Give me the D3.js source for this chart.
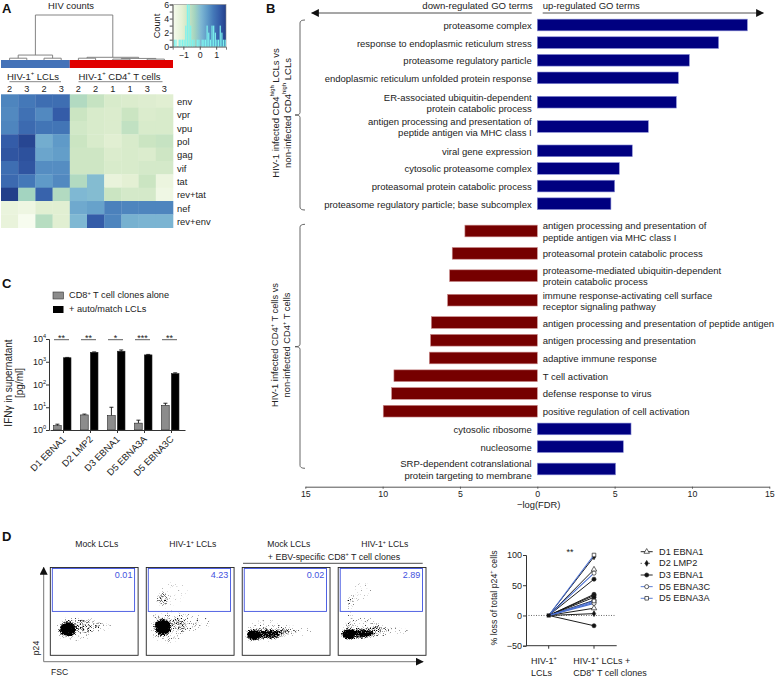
<!DOCTYPE html>
<html>
<head>
<meta charset="utf-8">
<script src="https://cdn.jsdelivr.net/npm/d3@7"></script>
<style>
  html, body { margin: 0; padding: 0; background: #fff; }
  svg { display: block; }
  text { font-family: "Liberation Sans", Arial, sans-serif; fill: #222; }
</style>
</head>
<body>
<div id="container"></div>
<script>
//DATA - panel A
const heatRows = ["env", "vpr", "vpu", "pol", "gag", "vif", "tat", "rev+tat", "nef", "rev+env"];
const heatCols = ["2", "3", "2", "3", "2", "2", "1", "1", "3", "3"];
const heatValues = [
  [0.85, 1.0, 1.15, 1.15, -0.35, -0.55, -0.8, -0.85, -0.9, -0.95],
  [0.8, 1.1, 0.8, 1.4, -0.6, -0.8, -0.85, -0.6, -0.85, -0.8],
  [0.85, 1.2, 1.05, 1.05, -0.7, -0.8, -0.85, -0.5, -0.8, -0.8],
  [1.4, 1.7, 0.35, 0.6, -0.6, -0.8, -0.95, -0.8, -0.6, -0.55],
  [1.5, 1.55, 0.45, 0.55, -0.65, -0.65, -0.85, -0.8, -0.85, -0.65],
  [1.15, 1.5, 0.75, 0.75, -0.65, -0.65, -0.8, -0.8, -0.75, -0.75],
  [1.2, 1.0, 0.6, 0.8, -0.35, 0.15, -1.15, -1.0, -0.6, -1.25],
  [1.8, -0.2, 1.3, -0.35, 0.2, 0.15, -0.6, -0.75, -0.75, -1.35],
  [-1.2, -1.3, -0.95, -0.95, 0.4, 0.5, 0.9, 0.85, 0.85, 0.85],
  [-1.15, -1.6, -0.4, -0.95, 0.2, 1.4, 0.85, 0.3, 0.25, 0.25]
];
const heatStops = [-1.6, -1.0, -0.6, -0.2, 0.2, 0.6, 1.0, 1.4, 1.8];
const heatColors = ["#f7fcef", "#e4f0d4", "#cbe5c2", "#a3d4c0", "#7fb8d3", "#5f9ac8", "#4478b8", "#345ca8", "#223f8a"];
// dendrogram, leaves are column indexes, h is the merge height
const dendro = { h: 1, children: [
  { h: 0.11, children: [
    { h: 0.04, children: [{ leaf: 0 }, { leaf: 1 }] },
    { h: 0.04, children: [{ leaf: 2 }, { leaf: 3 }] } ] },
  { h: 0.06, children: [
    { h: 0.04, children: [{ leaf: 4 }, { leaf: 5 }] },
    { h: 0.035, children: [
      { h: 0.02, children: [{ leaf: 6 }, { leaf: 7 }] },
      { h: 0.02, children: [{ leaf: 8 }, { leaf: 9 }] } ] } ] }
] };
const histStarts = [-1.6, -1.5, -1.3, -1.2, -1.1, -1.0, -0.9, -0.8, -0.7, -0.6, -0.5, -0.4, -0.2, -0.1, 0.1, 0.2, 0.3, 0.4, 0.5, 0.6, 0.7, 0.8, 0.9, 1.0, 1.1, 1.2, 1.3, 1.4, 1.5];
const histCounts = [1, 1, 1, 1, 1, 1, 3, 6, 6, 3, 1, 1, 1, 1, 1, 1, 1, 3, 2, 1, 3, 3, 2, 1, 1, 3, 2, 1, 1];

//DATA - panel B
const termsLcl = ["proteasome complex", "response to endoplasmic reticulum stress", "proteasome regulatory particle",
  "endoplasmic reticulum unfolded protein response", "ER-associated ubiquitin-dependent|protein catabolic process",
  "antigen processing and presentation of|peptide antigen via MHC class I", "viral gene expression",
  "cytosolic proteasome complex", "proteasomal protein catabolic process", "proteasome regulatory particle; base subcomplex"];
const fdrLcl = [13.58, 11.72, 9.83, 9.12, 8.99, 7.18, 6.14, 5.3, 5.0, 4.76];
const termsT = ["antigen processing and presentation of|peptide antigen via MHC class I", "proteasomal protein catabolic process",
  "proteasome-mediated ubiquitin-dependent|protein catabolic process", "immune response-activating cell surface|receptor signaling pathway",
  "antigen processing and presentation of peptide antigen", "antigen processing and presentation", "adaptive immune response",
  "T cell activation", "defense response to virus", "positive regulation of cell activation",
  "cytosolic ribosome", "nucleosome", "SRP-dependent cotranslational|protein targeting to membrane"];
const fdrT = [-4.68, -5.5, -5.67, -5.8, -6.85, -6.9, -6.98, -9.27, -9.42, -9.96, 6.06, 5.56, 5.06];
const fdrTicks = [-15, -10, -5, 0, 5, 10, 15];

//DATA - panel C
const clones = ["D1 EBNA1", "D2 LMP2", "D3 EBNA1", "D5 EBNA3A", "D5 EBNA3C"];
const alone = [1.55, 4.6, 4.3, 2.0, 12];
const aloneErr = [1.8, 5, 10, 2.7, 15];
const auto = [1500, 2600, 2900, 2000, 300];
const autoErr = [1550, 2700, 3300, 2100, 325];
const sig = ["**", "**", "*", "***", "**"];
const ifnTicks = [1, 10, 100, 1000, 10000];

//DATA - panel D flow plots, clouds are fsc, p24, radius fsc, radius p24, density
const flowTitles = ["Mock LCLs", "HIV-1{+} LCLs", "Mock LCLs", "HIV-1{+} LCLs"];
const flowGates = ["0.01", "4.23", "0.02", "2.89"];
const flowClouds = [
  [[20, 30, 9, 8, 1], [27, 30, 20, 14, 0.22], [44, 33, 15, 8, 0.24], [60, 33, 10, 6, 0.16]],
  [[19, 32, 9, 9, 1], [24, 33, 21, 18, 0.24], [46, 37, 17, 11, 0.24], [66, 37, 9, 6, 0.15], [18, 63, 7, 8, 0.28], [30, 70, 16, 13, 0.14]],
  [[13, 23, 8, 6, 1], [28, 24, 15, 5, 0.75], [28, 28, 24, 12, 0.2], [50, 27, 12, 6, 0.3], [70, 27, 10, 5, 0.17]],
  [[12, 24, 8, 6, 1], [26, 25, 14, 5, 0.75], [26, 31, 22, 13, 0.2], [48, 28, 13, 7, 0.3], [70, 29, 11, 5, 0.18], [14, 61, 5, 8, 0.3], [26, 72, 11, 12, 0.14], [12, 42, 3, 11, 0.25]]
];

//DATA - panel D line plot
const lossDonors = ["D1 EBNA1", "D2 LMP2", "D3 EBNA1", "D5 EBNA3C", "D5 EBNA3A"];
const lossValues = [[76, 12], [97, 3], [60, 35, 33, 30, 25, -17], [70, 22, 20], [100, 24]];
const lossShapes = [d3.symbolTriangle, d3.symbolDiamond, d3.symbolCircle, d3.symbolCircle, d3.symbolSquare];
const lossFilled = [false, true, true, false, false];
const lossColors = ["#111", "#111", "#111", "#4a6fd0", "#4a6fd0"];
const lossTicks = [-50, 0, 50, 100];

//SETUP
const width = 775, height = 677;
const svg = d3.select("#container").append("svg").attr("width", width).attr("height", height);
const axisGray = "#555";
const labelSize = 9.5;

// text with {..} parts set as superscript
function rich(sel, str) {
  str.split(/(\{[^}]*\})/).filter(s => s.length).forEach((part, i, all) => {
    const up = part[0] === "{";
    const prevUp = i > 0 && all[i - 1][0] === "{";
    sel.append("tspan")
      .attr("dy", up ? -2.8 : (prevUp ? 2.8 : null))
      .style("font-size", up ? "0.62em" : null)
      .text(up ? part.slice(1, -1) : part);
  });
  return sel;
}
function label(x, y, str, size, anchor, rotate) {
  const t = svg.append("text")
    .attr("transform", `translate(${x},${y})` + (rotate ? ` rotate(${rotate})` : ""))
    .attr("text-anchor", anchor || "start")
    .attr("dominant-baseline", "central")
    .style("font-size", size + "px");
  return rich(t, str);
}
function panelLetter(x, y, s) {
  svg.append("text").attr("x", x).attr("y", y)
    .style("font-size", "13px").style("font-weight", "bold").style("fill", "#111").text(s);
}
panelLetter(2, 13, "A");
panelLetter(266, 13, "B");
panelLetter(2, 288, "C");
panelLetter(2, 541, "D");

const defs = svg.append("defs");
defs.append("marker").attr("id", "arrow").attr("viewBox", "0 0 10 10").attr("refX", 9).attr("refY", 5)
  .attr("markerWidth", 8).attr("markerHeight", 8).attr("markerUnits", "userSpaceOnUse").attr("orient", "auto-start-reverse")
  .append("path").attr("d", "M0,0L10,5L0,10Z").attr("fill", "#111");

//PANEL A
const heatX = d3.scaleBand().domain(d3.range(heatCols.length)).range([1, 173]);
const heatY = d3.scaleBand().domain(heatRows).range([94.3, 227.7]);
const heatColor = d3.scaleLinear().domain(heatStops).range(heatColors).clamp(true);

heatRows.forEach((row, r) => {
  svg.append("g").selectAll("rect").data(heatValues[r]).join("rect")
    .attr("x", (d, c) => heatX(c))
    .attr("y", heatY(row))
    .attr("width", heatX.bandwidth() + 0.3)
    .attr("height", heatY.bandwidth() + 0.3)
    .attr("fill", d => heatColor(d));
});
heatRows.forEach(row => label(177, heatY(row) + heatY.bandwidth() / 2, row, 9.4));
heatCols.forEach((c, i) => label(heatX(i) + heatX.bandwidth() / 2, 89.3, c, 9.2, "middle"));

// group colour bar, brackets and names
svg.append("rect").attr("x", heatX(0)).attr("y", 60).attr("width", heatX(4) - heatX(0)).attr("height", 8).attr("fill", "#4472b8");
svg.append("rect").attr("x", heatX(4)).attr("y", 60).attr("width", heatX(9) + heatX.bandwidth() - heatX(4)).attr("height", 8).attr("fill", "#e00000");
label(33, 76, "HIV-1{+} LCLs", 9.5, "middle");
label(119.5, 76, "HIV-1{+} CD4{+} T cells", 9.5, "middle");
[[9.5, 61], [78.5, 162.5]].forEach(s => {
  svg.append("line").attr("x1", s[0]).attr("x2", s[1]).attr("y1", 81.7).attr("y2", 81.7).attr("stroke", "#888").attr("stroke-width", 1);
});
label(71, 5, "HIV counts", 9.4, "middle");

// dendrogram
const dendroY = d3.scaleLinear().domain([0, 1]).range([60, 15]);
const root = d3.hierarchy(dendro);
root.eachAfter(n => {
  n.px = n.children ? d3.mean(n.children, c => c.px) : heatX(n.data.leaf) + heatX.bandwidth() / 2;
  n.py = dendroY(n.children ? n.data.h : 0);
});
svg.append("g").selectAll("path").data(root.descendants().filter(n => n.children)).join("path")
  .attr("fill", "none").attr("stroke", "#777").attr("stroke-width", 0.9)
  .attr("d", n => {
    const a = n.children[0], b = n.children[1];
    return `M${a.px},${a.py}V${n.py}H${b.px}V${b.py}`;
  });

// colour key with histogram
const histX = d3.scaleLinear().domain([-1.65, 1.6]).range([172.7, 226]);
const histY = d3.scaleLinear().domain([0, 6]).range([46.7, 4.5]);
const keyGrad = defs.append("linearGradient").attr("id", "keyGrad");
heatStops.forEach((s, i) => keyGrad.append("stop")
  .attr("offset", (s - heatStops[0]) / (heatStops[heatStops.length - 1] - heatStops[0]))
  .attr("stop-color", heatColors[i]));
svg.append("rect").attr("x", histX.range()[0]).attr("y", histY.range()[1])
  .attr("width", histX.range()[1] - histX.range()[0]).attr("height", histY.range()[0] - histY.range()[1])
  .attr("fill", "url(#keyGrad)").attr("stroke", "#888").attr("stroke-width", 0.6);
svg.append("g").selectAll("rect").data(histCounts).join("rect")
  .attr("x", (d, i) => histX(histStarts[i]) + 0.2)
  .attr("width", 1.2)
  .attr("y", d => histY(d))
  .attr("height", d => histY(0) - histY(d))
  .attr("fill", "#7df2ee");
const histAxisY = svg.append("g").attr("transform", `translate(${histX.range()[0]},0)`)
  .call(d3.axisLeft(histY).tickValues(d3.range(0, 7)).tickSize(3).tickFormat(d => d % 2 ? "" : d));
const histAxisX = svg.append("g").attr("transform", `translate(0,${histY(0)})`)
  .call(d3.axisBottom(histX).tickValues([-1, 0, 1]).tickSize(3).tickFormat(d => d < 0 ? "\u2212" + (-d) : d));
[histAxisY, histAxisX].forEach(a => {
  a.selectAll("path,line").attr("stroke", axisGray);
  a.selectAll("text").style("font-size", "8.8px").attr("fill", "#222");
  a.select(".domain").attr("stroke-width", 0.8);
});
histAxisY.selectAll("text").attr("x", -3.5);
histAxisX.selectAll("text").attr("y", 5);
label(156.7, 26, "Count", 9.2, "middle", -90);

//PANEL B
const fdrX = d3.scaleLinear().domain([-15, 15]).range([305.3, 769.3]);
const barH = 11.7;

// row offsets grow by 1 row, two line labels push their neighbours further apart
function rowOffsets(terms, mixedGap) {
  let pos = 0;
  return terms.map((t, i) => {
    if (i > 0) {
      const a = terms[i - 1].includes("|"), b = t.includes("|");
      pos += a && b ? 1.38 : (a || b ? mixedGap : 1);
    }
    return pos;
  });
}
function goGroup(terms, values, mixedGap, top, bottom) {
  const offs = rowOffsets(terms, mixedGap);
  const y = d3.scaleLinear().domain([0, offs[offs.length - 1]]).range([top, bottom]);
  const g = svg.append("g");
  g.selectAll("rect").data(values).join("rect")
    .attr("x", d => Math.min(fdrX(0), fdrX(d)))
    .attr("width", d => Math.abs(fdrX(d) - fdrX(0)))
    .attr("y", (d, i) => y(offs[i]) - barH / 2)
    .attr("height", barH)
    .attr("fill", d => d > 0 ? "#000080" : "#760000")
    .attr("stroke", d => d > 0 ? "#8a8fd6" : "#c98a8a")
    .attr("stroke-width", 0.6);
  terms.forEach((t, i) => {
    const lines = t.split("|");
    const up = values[i] > 0;
    lines.forEach((ln, k) => {
      label(up ? 531.7 : 542.7, y(offs[i]) + (k - (lines.length - 1) / 2) * 11.3, ln, labelSize, up ? "end" : "start");
    });
  });
}
goGroup(termsLcl, fdrLcl, 1.38, 25, 203.7);
goGroup(termsT, fdrT, 1.26, 231, 469);

const fdrAxis = svg.append("g").attr("transform", "translate(0,486.7)")
  .call(d3.axisBottom(fdrX).tickValues(fdrTicks).tickSize(2).tickSizeOuter(0).tickFormat(d => Math.abs(d)));
fdrAxis.selectAll("path,line").attr("stroke", axisGray);
fdrAxis.selectAll("text").attr("y", 4).style("font-size", "8.8px").attr("fill", "#555");
label(538.7, 504, "\u2212log(FDR)", 9.4, "middle");

// header arrows
svg.append("line").attr("x1", 531.7).attr("x2", 311.7).attr("y1", 13).attr("y2", 13)
  .attr("stroke", "#222").attr("stroke-width", 0.8).attr("marker-end", "url(#arrow)");
svg.append("line").attr("x1", 542.7).attr("x2", 763.3).attr("y1", 13).attr("y2", 13)
  .attr("stroke", "#222").attr("stroke-width", 0.8).attr("marker-end", "url(#arrow)");
label(532.7, 5.3, "down-regulated GO terms", 9.6, "end");
label(542.7, 5.3, "up-regulated GO terms", 9.5, "start");

// braces on the left
function brace(top, mid, bottom) {
  svg.append("path").attr("fill", "none").attr("stroke", axisGray).attr("stroke-width", 0.9)
    .attr("d", `M305,${top}Q300,${top} 300,${top + 3}V${mid - 2.5}Q300,${mid} 295,${mid}Q300,${mid} 300,${mid + 2.5}V${bottom - 3}Q300,${bottom} 305,${bottom}`);
}
brace(20, 115, 210);
brace(224.3, 346.7, 468.3);
label(275, 113, "HIV-1 infected CD4{high}  LCLs vs", 9.5, "middle", -90);
label(286.7, 113, "non-infected CD4{high} LCLs", 9.5, "middle", -90);
label(275, 345, "HIV-1 infected CD4{+} T cells vs", 9.3, "middle", -90);
label(286.7, 345, "non-infected CD4{+} T cells", 9.3, "middle", -90);

//PANEL C
const ifnX = d3.scaleBand().domain(clones).range([50, 185]);
const ifnInner = d3.scaleBand().domain(["alone", "auto"]).range([3.6, 21]).paddingInner(0.22);
const ifnY = d3.scaleLog().domain([1, 10000]).range([430, 339]);
const ifnGroups = [
  { key: "alone", vals: alone, errs: aloneErr, color: "#8c8c8c" },
  { key: "auto", vals: auto, errs: autoErr, color: "#000" }
];
ifnGroups.forEach(s => {
  const g = svg.append("g");
  g.selectAll("line").data(s.errs).join("line")
    .attr("x1", (d, i) => ifnX(clones[i]) + ifnInner(s.key) + ifnInner.bandwidth() / 2)
    .attr("x2", (d, i) => ifnX(clones[i]) + ifnInner(s.key) + ifnInner.bandwidth() / 2)
    .attr("y1", (d, i) => ifnY(s.vals[i]))
    .attr("y2", d => ifnY(d))
    .attr("stroke", "#111").attr("stroke-width", 0.9);
  g.selectAll("path").data(s.errs).join("path")
    .attr("fill", "none").attr("stroke", "#111").attr("stroke-width", 0.9)
    .attr("d", (d, i) => {
      const cx = ifnX(clones[i]) + ifnInner(s.key) + ifnInner.bandwidth() / 2;
      return `M${cx - 2},${ifnY(d)}H${cx + 2}`;
    });
  g.selectAll("rect").data(s.vals).join("rect")
    .attr("x", (d, i) => ifnX(clones[i]) + ifnInner(s.key))
    .attr("width", ifnInner.bandwidth())
    .attr("y", d => ifnY(d))
    .attr("height", d => ifnY(1) - ifnY(d))
    .attr("fill", s.color).attr("stroke", "#222").attr("stroke-width", 0.6);
});
const ifnAxisY = svg.append("g").attr("transform", "translate(49,0)")
  .call(d3.axisLeft(ifnY).tickValues(ifnTicks).tickSize(3).tickFormat(""));
const ifnAxisX = svg.append("g").attr("transform", "translate(0,430)")
  .call(d3.axisBottom(ifnX).tickSize(3).tickFormat("").tickSizeOuter(0));
[ifnAxisY, ifnAxisX].forEach(a => a.selectAll("path,line").attr("stroke", "#333"));
ifnTicks.forEach((t, i) => label(46, ifnY(t), "10{" + i + "}", 9, "end"));
clones.forEach(c => {
  label(ifnX(c) + ifnX.bandwidth() / 2, 437, c, 9.4, "end", -45);
});
sig.forEach((s, i) => {
  const x0 = ifnX(clones[i]);
  svg.append("line").attr("x1", x0 + 4).attr("x2", x0 + 19).attr("y1", 339.7).attr("y2", 339.7).attr("stroke", "#333").attr("stroke-width", 0.8);
  label(x0 + 11.5, 337.5, s, 9, "middle");
});
label(8.3, 383, "IFN\u03b3 in supernatant", 10, "middle", -90);
label(18.5, 383, "[pg/ml]", 10, "middle", -90);
svg.append("rect").attr("x", 53).attr("y", 292).attr("width", 10.5).attr("height", 7).attr("fill", "#8c8c8c").attr("stroke", "#333").attr("stroke-width", 0.6);
svg.append("rect").attr("x", 53).attr("y", 306).attr("width", 10.5).attr("height", 7).attr("fill", "#000");
label(69, 295.3, "CD8{+} T cell clones alone", 9.2);
label(69, 309, "+ auto/match LCLs", 9.2);

//PANEL D flow plots
// the cloud shapes go through a blur and a noise threshold so they read as dot plots
const stipple = defs.append("filter").attr("id", "stipple").attr("filterUnits", "userSpaceOnUse")
  .attr("x", 0).attr("y", 0).attr("width", width).attr("height", height)
  .attr("color-interpolation-filters", "sRGB");
stipple.append("feGaussianBlur").attr("in", "SourceAlpha").attr("stdDeviation", 1.8).attr("result", "soft");
stipple.append("feTurbulence").attr("type", "fractalNoise").attr("baseFrequency", 1.4).attr("numOctaves", 1).attr("seed", 7).attr("result", "noise");
stipple.append("feColorMatrix").attr("in", "noise").attr("type", "matrix")
  .attr("values", "0 0 0 0 0  0 0 0 0 0  0 0 0 0 0  1 0 0 0 0").attr("result", "grain");
stipple.append("feComposite").attr("in", "soft").attr("in2", "grain").attr("operator", "arithmetic")
  .attr("k1", 0).attr("k2", 0.7).attr("k3", -1).attr("k4", 0.5).attr("result", "mix");
const thresh = stipple.append("feComponentTransfer").attr("in", "mix").attr("result", "dots");
thresh.append("feFuncA").attr("type", "linear").attr("slope", 4).attr("intercept", -0.95);
const gate = stipple.append("feComponentTransfer").attr("in", "soft").attr("result", "mask");
gate.append("feFuncA").attr("type", "linear").attr("slope", 25).attr("intercept", -0.1);
stipple.append("feComposite").attr("in", "dots").attr("in2", "mask").attr("operator", "in").attr("result", "gated");
stipple.append("feFlood").attr("flood-color", "#000").attr("result", "ink");
stipple.append("feComposite").attr("in", "ink").attr("in2", "gated").attr("operator", "in").attr("result", "inked");
stipple.append("feGaussianBlur").attr("in", "inked").attr("stdDeviation", 0.3);

const flowPanels = d3.scaleBand().domain(d3.range(4)).range([50.3, 426]).paddingInner(0.085);
const flowSize = flowPanels.bandwidth();
const blue = "#3f52e0";
flowClouds.forEach((clouds, p) => {
  const x0 = flowPanels(p);
  const fx = d3.scaleLinear().domain([0, 100]).range([x0, x0 + flowSize]);
  const fy = d3.scaleLinear().domain([0, 100]).range([655.3, 655.3 - flowSize]);
  svg.append("clipPath").attr("id", "clip" + p).append("rect")
    .attr("x", x0).attr("y", fy(100)).attr("width", flowSize).attr("height", flowSize);
  const g = svg.append("g").attr("clip-path", `url(#clip${p})`).append("g").attr("filter", "url(#stipple)");
  g.selectAll("ellipse").data(clouds).join("ellipse")
    .attr("cx", d => fx(d[0]))
    .attr("cy", d => fy(d[1]))
    .attr("rx", d => fx(d[2]) - fx(0))
    .attr("ry", d => fy(0) - fy(d[3]))
    .attr("fill", "#000").attr("fill-opacity", d => d[4]);
  svg.append("rect").attr("x", x0).attr("y", fy(100)).attr("width", flowSize).attr("height", flowSize)
    .attr("fill", "none").attr("stroke", "#222").attr("stroke-width", 0.9);
  svg.append("rect").attr("x", fx(2.3)).attr("y", fy(98.8)).attr("width", fx(96) - fx(2.3)).attr("height", fy(50) - fy(98.8))
    .attr("fill", "none").attr("stroke", blue).attr("stroke-width", 0.9);
  const t = label(fx(93.5), 574.5, flowGates[p], 9, "end");
  t.selectAll("tspan").style("fill", blue);
  label(fx(53), 544.3, flowTitles[p], 8.6, "middle");
});
label(334, 557, "+ EBV-specific CD8{+} T cell clones", 8.9, "middle");
svg.append("line").attr("x1", 243).attr("x2", 422.7).attr("y1", 563.3).attr("y2", 563.3).attr("stroke", "#222").attr("stroke-width", 0.8);
svg.append("line").attr("x1", 43.7).attr("x2", 43.7).attr("y1", 661.7).attr("y2", 567.5)
  .attr("stroke", "#777").attr("stroke-width", 1).attr("marker-end", "url(#arrow)");
svg.append("line").attr("x1", 43.7).attr("x2", 423).attr("y1", 661.7).attr("y2", 661.7)
  .attr("stroke", "#777").attr("stroke-width", 1).attr("marker-end", "url(#arrow)");
label(36, 648, "p24", 8.6, "middle", -90);
label(51, 671.5, "FSC", 8.6);

//PANEL D line plot
const lossX = d3.scalePoint().domain(["before", "after"]).range([548.7, 594]);
const lossY = d3.scaleLinear().domain([-50, 100]).range([645.7, 555]);
svg.append("line").attr("x1", 526).attr("x2", 615).attr("y1", lossY(0)).attr("y2", lossY(0))
  .attr("stroke", "#444").attr("stroke-width", 0.8).attr("stroke-dasharray", "1 1.5");
const lossAxisY = svg.append("g").attr("transform", "translate(526,0)")
  .call(d3.axisLeft(lossY).tickValues(lossTicks).tickSize(3).tickFormat(d => d < 0 ? "\u2212" + (-d) : d));
lossAxisY.selectAll("path,line").attr("stroke", "#333");
lossAxisY.selectAll("text").style("font-size", "9px").attr("fill", "#222").attr("x", -4);
svg.append("line").attr("x1", 526).attr("x2", 616.7).attr("y1", lossY(-50)).attr("y2", lossY(-50)).attr("stroke", "#333");
lossX.domain().forEach(k => svg.append("line").attr("x1", lossX(k)).attr("x2", lossX(k))
  .attr("y1", lossY(-50)).attr("y2", lossY(-50) + 3).attr("stroke", "#333"));

lossDonors.forEach((donor, s) => {
  const symbol = d3.symbol().type(lossShapes[s]).size(s === 1 ? 10 : 13)();
  const g = svg.append("g");
  g.selectAll("line").data(lossValues[s]).join("line")
    .attr("x1", lossX("before")).attr("y1", lossY(0))
    .attr("x2", lossX("after")).attr("y2", d => lossY(d))
    .attr("stroke", lossColors[s]).attr("stroke-width", s === 3 || s === 4 ? 1.1 : 0.95);
  g.selectAll("path").data(lossValues[s]).join("path")
    .attr("d", symbol)
    .attr("transform", d => `translate(${lossX("after")},${lossY(d)})`)
    .attr("fill", lossFilled[s] ? "#111" : "#fff")
    .attr("stroke", "#222").attr("stroke-width", 0.7);

  const ly = d3.scalePoint().domain(lossDonors).range([551.7, 598.3])(donor);
  svg.append("line").attr("x1", 640.7).attr("x2", 652.7).attr("y1", ly).attr("y2", ly)
    .attr("stroke", lossColors[s]).attr("stroke-width", 0.9)
    .attr("stroke-dasharray", s === 1 ? "1 3" : null);
  svg.append("path").attr("d", symbol).attr("transform", `translate(646.7,${ly})`)
    .attr("fill", lossFilled[s] ? "#111" : "#fff").attr("stroke", "#222").attr("stroke-width", 0.7);
  label(659, ly, donor, 9.2);
});
svg.append("path").attr("d", d3.symbol().type(d3.symbolSquare).size(16)())
  .attr("transform", `translate(${lossX("before")},${lossY(0)})`).attr("fill", "#111");
label(570, 551.7, "**", 9, "middle");
label(494, 598, "% loss of total  p24{+} cells", 8.8, "middle", -90);
label(531, 660.7, "HIV-1{+}", 9);
label(531, 672.7, "LCLs", 9);
label(573.3, 660.7, "HIV-1{+} LCLs +", 9);
label(573.3, 672.7, "CD8{+} T cell clones", 9);
</script>
</body>
</html>
